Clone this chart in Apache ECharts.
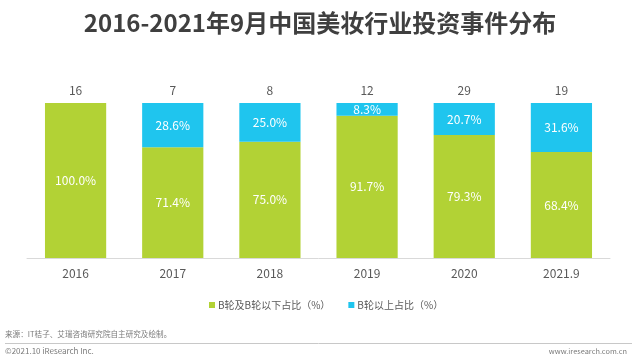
<!DOCTYPE html>
<html><head><meta charset="utf-8">
<script src="https://cdn.jsdelivr.net/npm/echarts@6/dist/echarts.min.js"></script>
<style>html,body{margin:0;padding:0;background:#fff;}#c{width:640px;height:364px;}</style>
</head><body><div id="c"></div>
<script>
const categories = ['2016','2017','2018','2019','2020','2021.9'];
const lowerShare = [100.0, 71.4, 75.0, 91.7, 79.3, 68.4];
const upperShare = [0, 28.6, 25.0, 8.3, 20.7, 31.6];
const totals = [16, 7, 8, 12, 29, 19];
const seriesNames = ['B轮及B轮以下占比（%）', 'B轮以上占比（%）'];

const font = '"Noto Sans CJK SC", "Noto Sans", sans-serif';
const chart = echarts.init(document.getElementById('c'));
chart.setOption({
  animation: false,
  textStyle: { fontFamily: font },
  title: [{
    text: '2016-2021年9月中国美妆行业投资事件分布',
    left: 'center', top: 6,
    textStyle: { fontSize: 24, fontWeight: 'bold', color: '#3f3f3f', fontFamily: font }
  }],
  graphic: [
    { type: 'text', left: 5, top: 330, style: { text: '来源：IT桔子、艾瑞咨询研究院自主研究及绘制。', fontSize: 7.6, fill: '#7a7a7a', fontFamily: font } },
    { type: 'line', shape: { x1: 5, y1: 343.5, x2: 632, y2: 343.5 }, style: { stroke: '#c8c8c8', lineWidth: 1 } },
    { type: 'text', left: 5, top: 347, style: { text: '©2021.10 iResearch Inc.', fontSize: 8, fill: '#7a7a7a', fontFamily: font } },
    { type: 'text', right: 13, top: 347, style: { text: 'www.iresearch.com.cn', fontSize: 7.4, fill: '#7a7a7a', fontFamily: font } }
  ],
  legend: {
    top: 295, left: 204, itemWidth: 6, itemHeight: 6, itemGap: 18,
    icon: 'rect',
    textStyle: { fontSize: 10, color: '#595959', fontFamily: font, padding: [0, 0, 0, -2] },
    data: seriesNames
  },
  grid: { left: 27, right: 30, top: 103, bottom: 106 },
  xAxis: {
    type: 'category', data: categories,
    axisLine: { lineStyle: { color: '#d9d9d9' } },
    axisTick: { show: false },
    axisLabel: { color: '#595959', fontSize: 12, margin: 9 }
  },
  yAxis: { type: 'value', min: 0, max: 100, show: false },
  series: [
    {
      name: seriesNames[0], type: 'bar', stack: 's', barWidth: '63%',
      data: lowerShare,
      itemStyle: { color: '#B2D235' },
      label: { show: true, position: 'inside', color: '#fff', fontSize: 12,
        formatter: p => p.value > 0 ? p.value.toFixed(1) + '%' : '' }
    },
    {
      name: seriesNames[1], type: 'bar', stack: 's', barWidth: '63%',
      data: upperShare,
      itemStyle: { color: '#1FC5EE' },
      label: { show: true, position: 'inside', color: '#fff', fontSize: 12,
        formatter: p => p.value > 0 ? p.value.toFixed(1) + '%' : '' }
    },
    {
      name: 'total', type: 'bar', stack: 's', barWidth: '63%',
      data: totals.map(() => 0),
      itemStyle: { color: 'transparent' },
      label: { show: true, position: 'top', distance: 7, color: '#595959', fontSize: 12,
        formatter: p => String(totals[p.dataIndex]) }
    }
  ]
});
</script></body></html>
